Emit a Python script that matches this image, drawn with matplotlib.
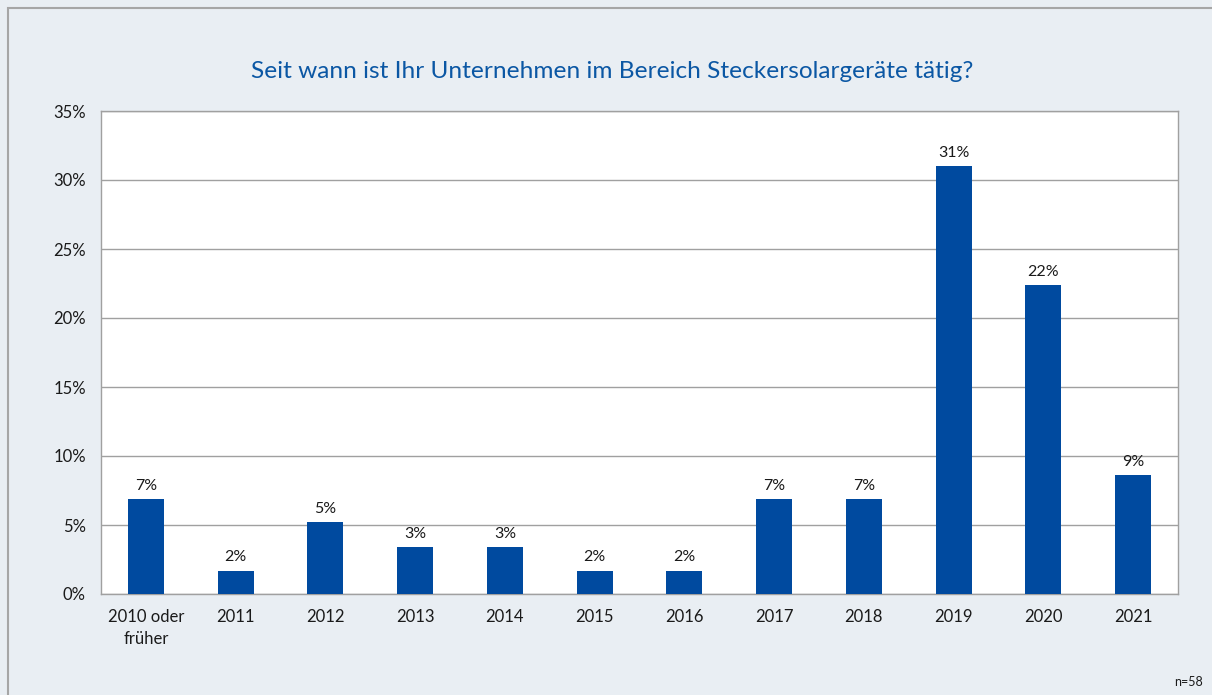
import matplotlib
matplotlib.use("Agg")
import matplotlib.pyplot as plt
from matplotlib.patches import Rectangle
from matplotlib.ticker import FuncFormatter, MultipleLocator

categories = ["2010 oder\nfrüher", "2011", "2012", "2013", "2014", "2015", "2016",
              "2017", "2018", "2019", "2020", "2021"]
values = [6.9, 1.7, 5.2, 3.4, 3.4, 1.7, 1.7, 6.9, 6.9, 31.0, 22.4, 8.6]
labels = ["7%", "2%", "5%", "3%", "3%", "2%", "2%", "7%", "7%", "31%", "22%", "9%"]
title = "Seit wann ist Ihr Unternehmen im Bereich Steckersolargeräte tätig?"
note = "n=58"

plt.rcParams['font.family'] = ['Lato', 'DejaVu Sans']

W, H = 1212, 695
fig = plt.figure(figsize=(W / 100, H / 100), dpi=100)
bg = "#E9EEF3"
fig.patch.set_facecolor(bg)
fig.patches.append(Rectangle((8 / W, -0.01), 1.02, 1 - 8 / H + 0.01, transform=fig.transFigure,
                             fill=False, edgecolor="#A6A6A6", linewidth=1.5))

left, right, top, bottom = 101, 1178, 111, 594
ax = fig.add_axes([left / W, 1 - bottom / H, (right - left) / W, (bottom - top) / H])
ax.set_facecolor("white")

x = range(len(categories))
ax.bar(x, values, width=0.4, color="#004A9F", zorder=3)
for xi, v, lab in zip(x, values, labels):
    ax.text(xi, v + 0.45, lab, ha="center", va="bottom", fontsize=11.5, color="#1A1A1A")

ax.set_xlim(-0.5, len(categories) - 0.5)
ax.set_ylim(0, 35)
ax.yaxis.set_major_locator(MultipleLocator(5))
ax.yaxis.set_major_formatter(FuncFormatter(lambda v, p: f"{v:.0f}%"))
ax.set_xticks(list(x))
ax.set_xticklabels(categories, fontsize=12, color="#1A1A1A", linespacing=1.45)
ax.tick_params(axis="y", labelsize=12, colors="#1A1A1A", length=0, pad=11)
ax.tick_params(axis="x", length=0, pad=11)
ax.grid(axis="y", color="#A0A0A0", linewidth=1, zorder=0)
for s in ax.spines.values():
    s.set_color("#A0A0A0")
    s.set_linewidth(1)

fig.text(612 / W, 1 - 71 / H, title, ha="center", va="center",
         fontsize=17.6, color="#0B57A4")
fig.text(1203 / W, 1 - 682 / H, note, ha="right", va="center", fontsize=9, color="#1A1A1A")

fig.savefig("out.png", dpi=100, facecolor=fig.get_facecolor())
